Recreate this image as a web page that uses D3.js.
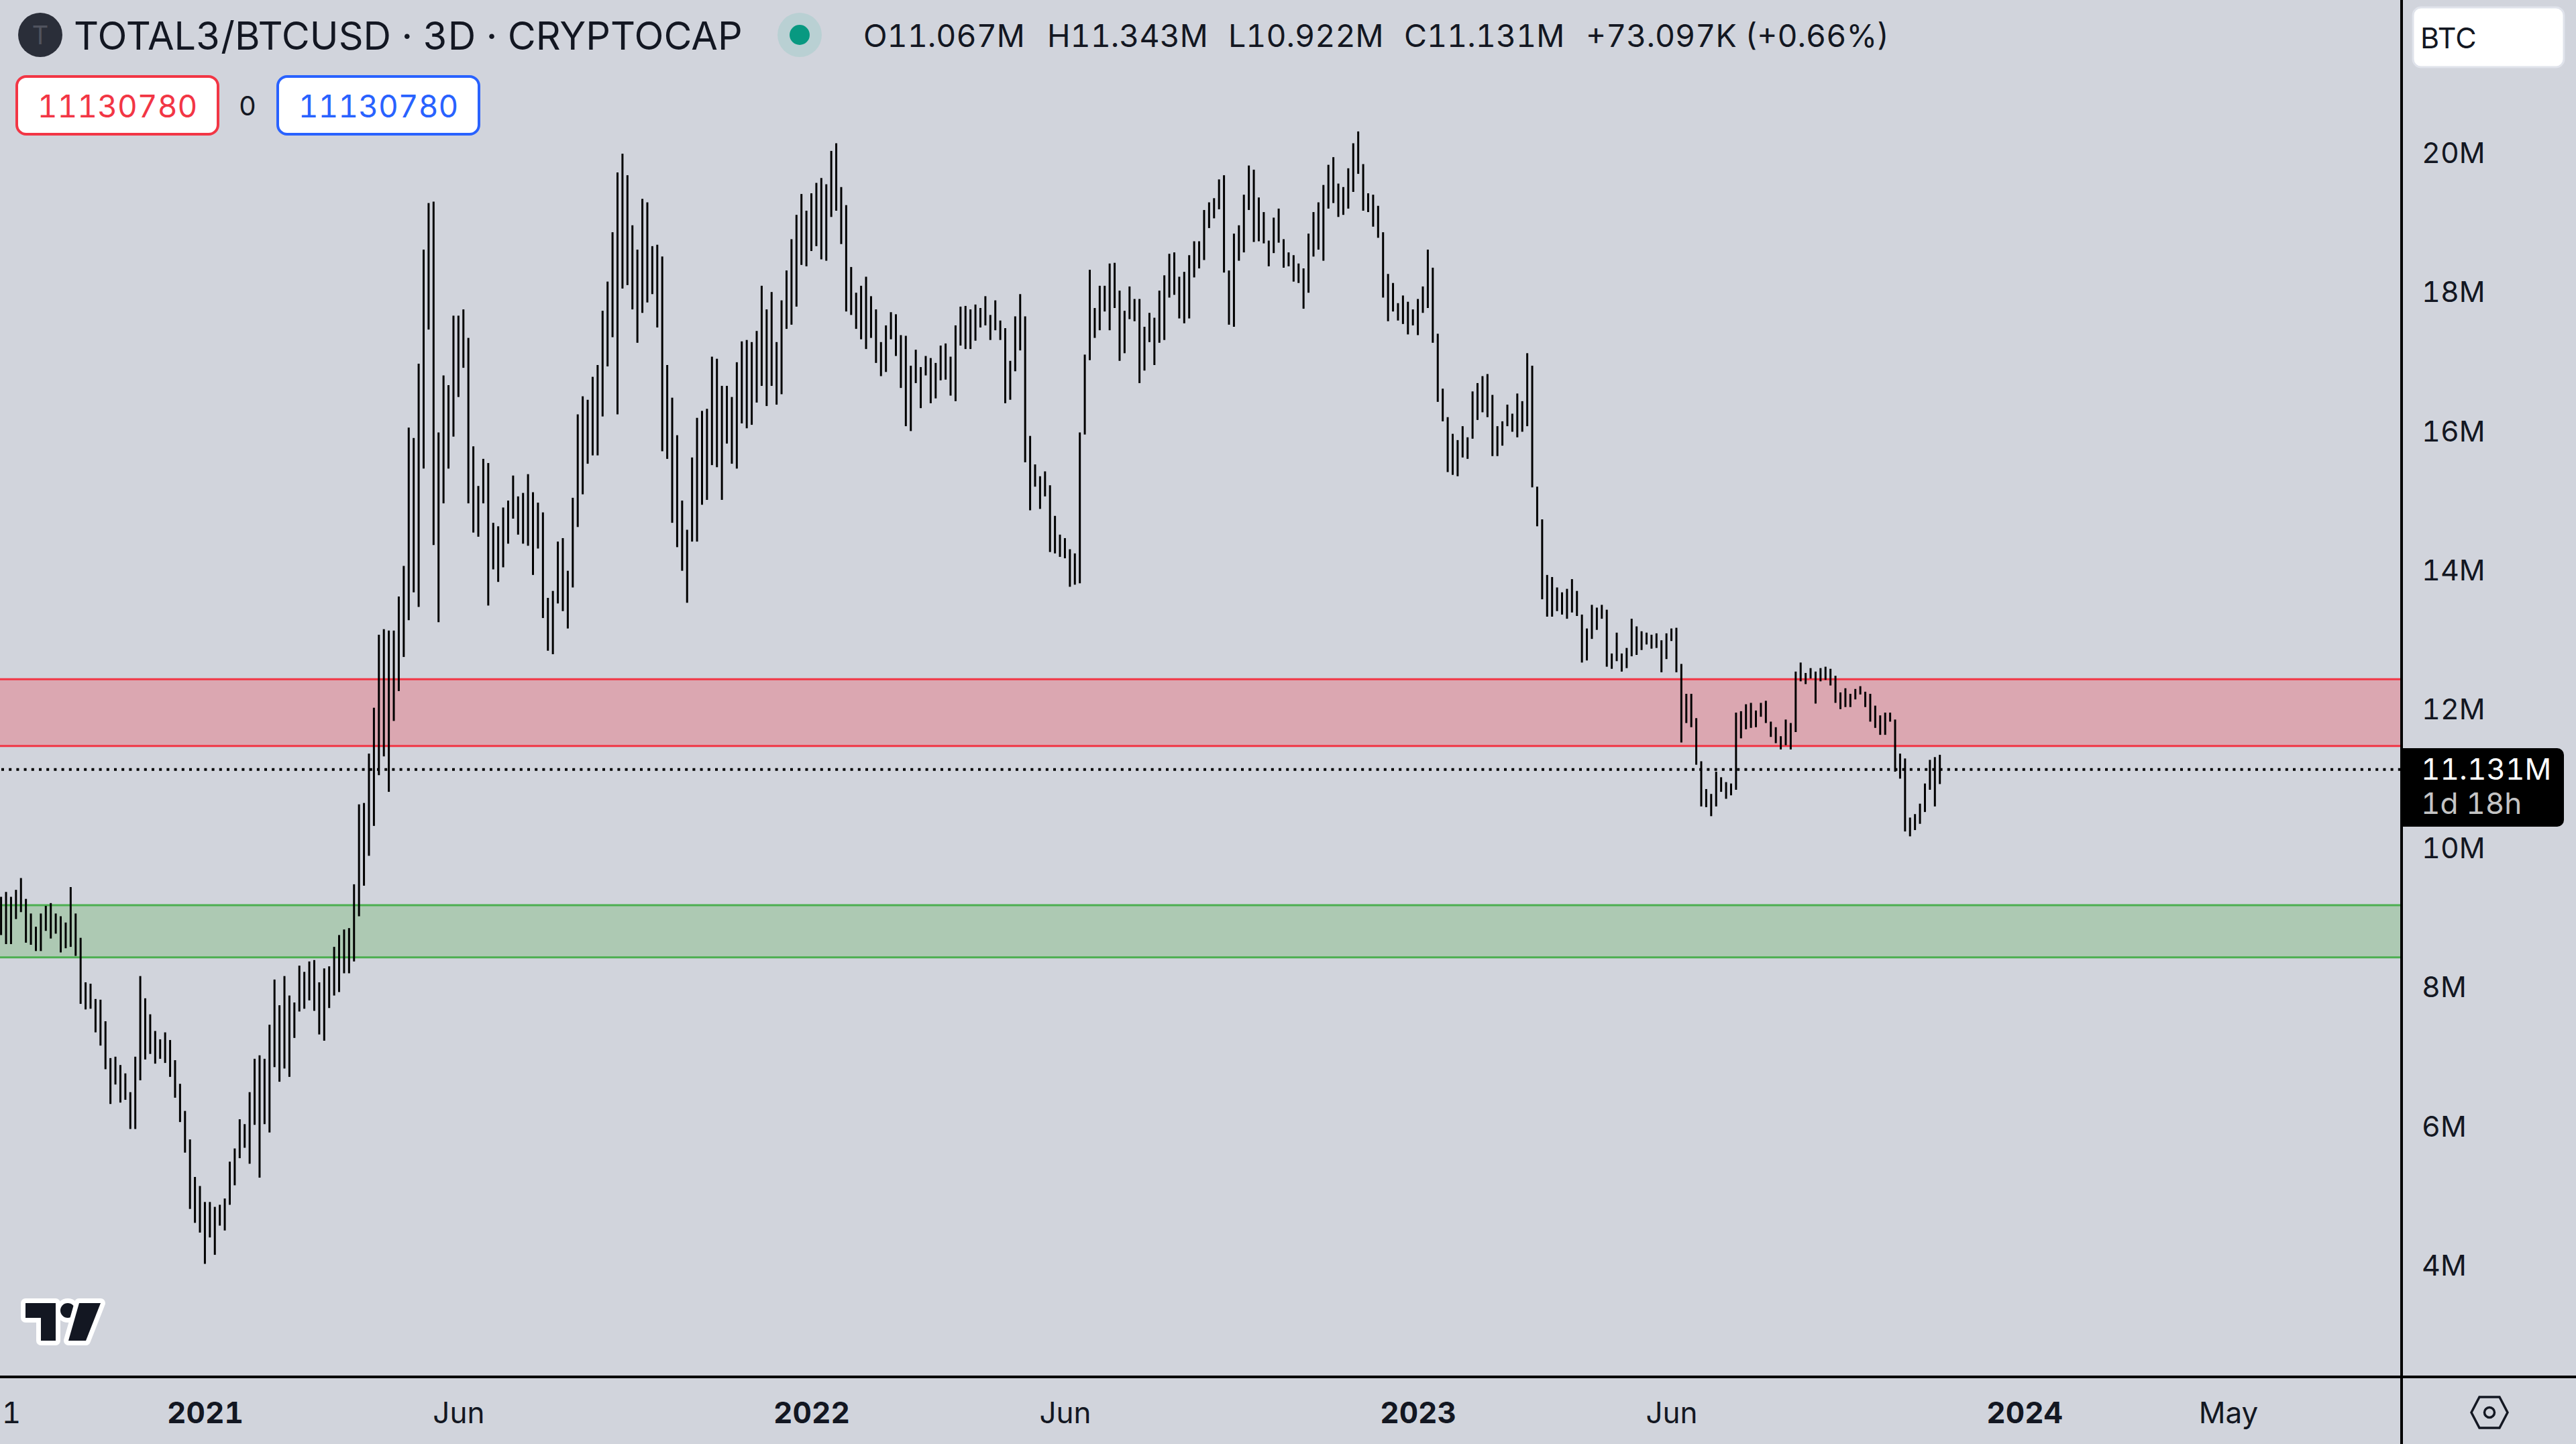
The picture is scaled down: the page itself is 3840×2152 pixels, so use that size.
<!DOCTYPE html>
<html>
<head>
<meta charset="utf-8">
<script src="https://cdn.jsdelivr.net/npm/d3@7"></script>
<style>
  html, body { margin: 0; padding: 0; background: #d1d4dc; }
  svg { display: block; }
  text { font-family: Inter, "Noto Sans", sans-serif; fill: #131722; font-variant-numeric: tabular-nums; }
</style>
</head>
<body>
<div id="chart"></div>
<script>
// 3 day bars, values in millions
var highs = [
  9.30,9.37,9.30,9.40,9.57,9.27,9.06,8.87,9.06,9.17,
  9.21,9.06,9.02,8.93,9.44,9.06,8.71,8.07,8.05,7.83,
  7.82,7.51,6.98,7.00,6.88,6.76,6.49,7.00,8.16,7.84,
  7.61,7.37,7.25,7.35,7.24,6.95,6.61,6.22,5.81,5.27,
  5.14,4.91,4.91,4.84,4.87,4.96,5.49,5.68,6.10,6.03,
  6.49,6.97,7.02,6.97,7.46,8.11,7.74,8.16,7.88,7.78,
  8.31,8.22,8.37,8.39,8.07,8.27,8.30,8.58,8.75,8.83,
  8.85,9.48,10.63,10.65,11.36,12.02,13.07,13.15,13.13,13.13,
  13.62,14.06,16.05,15.90,16.97,18.61,19.28,19.30,15.98,16.80,
  16.66,17.66,17.66,17.75,17.34,15.78,15.21,15.60,15.54,14.68,
  14.63,14.90,15.00,15.36,15.06,15.11,15.38,15.12,14.97,14.83,
  13.60,13.70,14.41,14.46,13.99,15.04,16.24,16.50,16.45,16.78,
  16.95,17.73,18.15,18.86,19.72,19.99,19.68,18.96,18.61,19.34,
  19.29,18.66,18.68,18.51,16.95,16.48,15.94,15.00,14.58,15.62,
  16.19,16.29,16.32,17.07,17.04,16.65,16.65,16.49,16.99,17.29,
  17.31,17.28,17.44,18.09,17.75,18.00,17.28,17.88,18.31,18.76,
  19.11,19.41,19.17,19.42,19.57,19.64,19.55,20.03,20.14,19.51,
  19.25,18.36,17.99,18.09,18.22,17.94,17.75,17.28,17.52,17.71,
  17.68,17.38,17.37,16.94,17.17,16.92,17.08,17.05,16.98,17.23,
  17.26,17.07,17.52,17.79,17.80,17.75,17.82,17.77,17.94,17.67,
  17.88,17.59,17.48,17.01,17.65,17.97,17.65,15.93,15.52,15.35,
  15.42,15.22,14.78,14.51,14.46,14.30,14.24,15.98,17.10,18.32,
  17.77,18.09,18.09,18.41,18.42,18.02,17.73,18.08,17.90,17.90,
  17.50,17.70,17.63,18.02,18.24,18.55,18.57,18.22,18.29,18.53,
  18.73,18.73,19.18,19.29,19.35,19.62,19.68,18.31,18.84,18.96,
  19.40,19.82,19.76,19.36,19.15,18.74,19.07,19.20,18.76,18.57,
  18.53,18.41,18.34,18.84,19.15,19.29,19.54,19.83,19.94,19.56,
  19.51,19.78,20.14,20.31,19.84,19.42,19.40,19.24,18.86,18.26,
  18.13,17.84,17.95,17.86,17.75,17.90,18.08,18.61,18.35,17.40,
  16.61,16.20,15.96,15.87,16.07,15.91,16.57,16.69,16.79,16.82,
  16.52,16.07,16.14,16.38,16.25,16.54,16.43,17.12,16.94,15.20,
  14.73,13.93,13.90,13.75,13.68,13.73,13.87,13.70,13.36,13.16,
  13.50,13.46,13.50,13.43,12.80,13.10,12.80,12.88,13.30,13.19,
  13.12,13.10,13.07,13.09,12.99,13.09,13.16,13.17,12.65,12.22,
  12.22,11.87,11.25,10.85,10.78,11.10,11.02,10.95,10.93,11.95,
  11.97,12.07,12.09,11.98,12.09,12.12,11.82,11.74,11.61,11.85,
  11.80,12.54,12.67,12.52,12.59,12.54,12.59,12.61,12.58,12.48,
  12.24,12.30,12.22,12.29,12.33,12.25,12.22,12.05,11.91,11.95,
  11.95,11.85,11.36,11.29,10.44,10.49,10.64,10.93,11.27,11.31,11.343
];
var lows = [
  8.75,8.62,8.62,8.98,9.08,8.64,8.61,8.52,8.52,8.81,
  8.70,8.77,8.50,8.56,8.58,8.45,7.76,7.68,7.69,7.35,
  7.16,6.82,6.32,6.60,6.34,6.38,5.96,5.96,6.66,6.96,
  7.04,6.90,6.97,6.91,6.71,6.41,6.06,5.62,4.81,4.61,
  4.47,4.02,4.40,4.15,4.57,4.50,4.87,5.15,5.54,5.69,
  5.46,6.02,5.26,6.03,5.91,6.85,6.64,6.83,6.71,7.27,
  7.65,7.69,7.81,7.66,7.32,7.23,7.70,7.88,7.93,8.20,
  8.20,8.37,9.02,9.46,9.89,10.32,11.05,11.32,10.81,11.83,
  12.26,12.75,13.28,13.68,13.47,15.46,17.46,14.36,13.25,14.96,
  15.46,15.92,16.49,16.91,14.96,14.54,14.48,14.96,13.49,14.01,
  13.83,14.04,14.38,14.74,14.51,14.38,14.35,13.93,14.31,13.31,
  12.84,12.79,13.52,13.41,13.16,13.75,14.62,15.09,15.53,15.65,
  15.65,16.21,16.93,17.35,16.24,18.05,18.10,17.75,17.27,17.70,
  17.85,17.97,17.49,15.71,15.60,14.68,14.33,13.99,13.53,14.41,
  14.41,14.94,15.01,15.51,15.48,15.01,15.82,15.53,15.46,16.11,
  16.04,16.09,16.41,16.65,16.36,16.65,16.38,16.53,17.47,17.53,
  17.79,18.39,18.37,18.59,18.66,18.47,18.45,19.08,19.17,18.69,
  17.72,17.67,17.47,17.32,17.18,17.34,16.98,16.79,16.85,17.32,
  17.08,16.62,16.07,16.00,16.69,16.33,16.80,16.40,16.47,16.73,
  16.74,16.51,16.43,17.23,17.18,17.18,17.30,17.49,17.52,17.31,
  17.45,17.31,16.40,16.45,16.86,17.16,15.55,14.86,15.20,14.88,
  15.06,14.26,14.24,14.19,14.17,13.76,13.79,13.81,15.95,17.02,
  17.34,17.45,17.72,17.45,17.77,17.01,17.12,17.61,17.58,16.69,
  16.87,17.28,16.95,17.27,17.31,17.92,17.96,17.62,17.55,17.62,
  18.21,18.34,18.46,18.92,19.06,19.19,18.28,17.53,17.50,18.45,
  18.57,19.18,18.72,18.73,18.70,18.37,18.56,18.71,18.35,18.37,
  18.15,18.13,17.76,17.99,18.51,18.61,18.45,19.20,19.28,19.08,
  19.11,19.20,19.44,19.70,19.17,19.15,18.94,18.78,17.92,17.58,
  17.72,17.59,17.54,17.39,17.52,17.38,17.70,17.77,17.27,16.42,
  16.14,15.41,15.37,15.35,15.62,15.60,15.89,16.16,16.27,16.20,
  15.64,15.64,15.79,16.07,15.99,15.91,15.99,16.07,15.19,14.63,
  13.58,13.33,13.33,13.41,13.36,13.30,13.39,13.34,12.67,12.70,
  13.01,13.14,13.30,12.61,12.58,12.69,12.54,12.59,12.76,12.78,
  12.85,12.93,12.87,12.88,12.53,12.72,12.98,12.53,11.52,11.80,
  11.74,11.20,10.60,10.59,10.46,10.60,10.81,10.71,10.76,10.84,
  11.58,11.71,11.73,11.74,11.89,11.80,11.60,11.51,11.42,11.48,
  11.42,11.67,12.40,12.36,12.44,12.08,12.40,12.42,12.34,12.09,
  12.00,12.03,12.03,12.14,12.21,12.03,11.82,11.73,11.63,11.63,
  11.82,11.10,11.00,10.24,10.17,10.26,10.35,10.52,10.84,10.60,10.922
];
var redZone = [11.47, 12.43];
var greenZone = [8.43, 9.18];
var lastClose = 11.131;
var priceTicks = [4, 6, 8, 10, 12, 14, 16, 18, 20];
var timeTickBars = [2, 41, 92, 163, 214, 285, 336, 407, 448];
var timeTickLabels = ["1", "2021", "Jun", "2022", "Jun", "2023", "Jun", "2024", "May"];
var boldLabels = ["2021", "2022", "2023", "2024"];
var ohlcLabels = ["O11.067M", "H11.343M", "L10.922M", "C11.131M", "+73.097K (+0.66%)"];
var ohlcX = [1287, 1561, 1831, 2093, 2364];

var width = 3840, height = 2152;
var plotRight = 3580, plotBottom = 2052;

var svg = d3.select("#chart").append("svg")
  .attr("width", width)
  .attr("height", height);

svg.append("rect").attr("width", width).attr("height", height).attr("fill", "#d1d4dc");

var x = d3.scaleLinear().domain([0, highs.length - 1]).range([1.6, 2891.7]);
var y = d3.scaleLinear().domain([4, 20]).range([1885.6, 228]);

// zones
function drawZone(zone, fill, stroke) {
  svg.append("rect")
    .attr("x", 0)
    .attr("width", plotRight)
    .attr("y", y(zone[1]))
    .attr("height", y(zone[0]) - y(zone[1]))
    .attr("fill", fill);
  zone.forEach(function (v) {
    svg.append("line")
      .attr("x1", 0).attr("x2", plotRight)
      .attr("y1", y(v)).attr("y2", y(v))
      .attr("stroke", stroke)
      .attr("stroke-width", 3);
  });
}
drawZone(redZone, "#dba7b1", "#f23645");
drawZone(greenZone, "#adc9b3", "#4caf50");

// last price dotted line
svg.append("line")
  .attr("x1", 2).attr("x2", plotRight)
  .attr("y1", y(lastClose)).attr("y2", y(lastClose))
  .attr("stroke", "#000")
  .attr("stroke-width", 4)
  .attr("stroke-dasharray", "4 7.2");

// bars
svg.append("g").selectAll("line")
  .data(highs)
  .enter().append("line")
  .attr("x1", function (d, i) { return x(i); })
  .attr("x2", function (d, i) { return x(i); })
  .attr("y1", function (d) { return y(d); })
  .attr("y2", function (d, i) { return y(lows[i]); })
  .attr("stroke", "#000")
  .attr("stroke-width", 3);

// axes
var yAxis = d3.axisRight(y)
  .tickValues(priceTicks)
  .tickFormat(function (d) { return d + "M"; })
  .tickSize(0)
  .tickPadding(30);
var yG = svg.append("g").attr("transform", "translate(" + plotRight + ",1)").call(yAxis);
yG.select(".domain").remove();
yG.selectAll("text").attr("font-size", 43).style("font-family", "Inter");

var xAxis = d3.axisBottom(x)
  .tickValues(timeTickBars)
  .tickFormat(function (d, i) { return timeTickLabels[i]; })
  .tickSize(0)
  .tickPadding(38);
var xG = svg.append("g").attr("transform", "translate(0," + plotBottom + ")").call(xAxis);
xG.select(".domain").remove();
xG.selectAll("text")
  .attr("font-size", 44)
  .style("font-family", "Inter")
  .attr("font-weight", function (d, i) { return boldLabels.indexOf(timeTickLabels[i]) >= 0 ? 700 : 400; });

svg.append("line").attr("x1", plotRight).attr("x2", plotRight).attr("y1", 0).attr("y2", height)
  .attr("stroke", "#000").attr("stroke-width", 4);
svg.append("line").attr("x1", 0).attr("x2", width).attr("y1", plotBottom).attr("y2", plotBottom)
  .attr("stroke", "#000").attr("stroke-width", 4);

// last price tag
svg.append("path")
  .attr("d", "M3580,1115H3812a10,10 0 0 1 10,10V1222a10,10 0 0 1 -10,10H3580Z")
  .attr("fill", "#000");
svg.append("text").attr("x", 3609).attr("y", 1162).attr("font-size", 44)
  .style("fill", "#fff").text("11.131M");
svg.append("text").attr("x", 3609).attr("y", 1213).attr("font-size", 44)
  .style("fill", "#c4c4c4").text("1d 18h");

// currency box
svg.append("rect").attr("x", 3597).attr("y", 11).attr("width", 225).attr("height", 89).attr("rx", 12)
  .attr("fill", "#fff").attr("stroke", "#e0e3eb").attr("stroke-width", 3);
svg.append("text").attr("x", 3608).attr("y", 72).attr("font-size", 43).text("BTC");

// header
svg.append("circle").attr("cx", 60).attr("cy", 52).attr("r", 33).attr("fill", "#2a2e39");
svg.append("text").attr("x", 60).attr("y", 66).attr("font-size", 38).attr("text-anchor", "middle")
  .style("fill", "#50535e").text("T");
svg.append("text").attr("x", 110).attr("y", 74).attr("font-size", 57.5)
  .text("TOTAL3/BTCUSD · 3D · CRYPTOCAP");
svg.append("circle").attr("cx", 1192).attr("cy", 52).attr("r", 33).attr("fill", "#b9d0d3");
svg.append("circle").attr("cx", 1192).attr("cy", 52).attr("r", 15).attr("fill", "#089981");
svg.selectAll(".ohlc").data(ohlcLabels).enter().append("text")
  .attr("class", "ohlc")
  .attr("x", function (d, i) { return ohlcX[i]; })
  .attr("y", 70)
  .attr("font-size", 46.5)
  .text(function (d) { return d; });

// order boxes
function orderBox(left, color) {
  svg.append("rect").attr("x", left).attr("y", 114).attr("width", 300).attr("height", 86).attr("rx", 14)
    .attr("fill", "#fff").attr("stroke", color).attr("stroke-width", 4);
  svg.append("text").attr("x", left + 150).attr("y", 175).attr("font-size", 46)
    .attr("text-anchor", "middle").style("fill", color).text("11130780");
}
orderBox(25, "#f23645");
orderBox(414, "#2962ff");
svg.append("text").attr("x", 369).attr("y", 172).attr("font-size", 40).attr("text-anchor", "middle").text("0");

// logo
var logo = svg.append("g")
  .attr("fill", "#131722").attr("stroke", "#fff").attr("stroke-width", 14)
  .attr("stroke-linejoin", "round").style("paint-order", "stroke");
logo.append("path").attr("d", "M38,1942H83V1998H61V1964H38Z");
logo.append("circle").attr("cx", 101).attr("cy", 1953).attr("r", 11);
logo.append("path").attr("d", "M118,1942H150L128,1998H102Z");

// settings icon
var icon = svg.append("g").attr("transform", "translate(3711,2105)")
  .attr("fill", "none").attr("stroke", "#131722").attr("stroke-width", 3.5);
icon.append("path").attr("d", "M-27,0L-15,-23H15L27,0L15,23H-15Z");
icon.append("circle").attr("r", 7.5);
</script>
</body>
</html>
